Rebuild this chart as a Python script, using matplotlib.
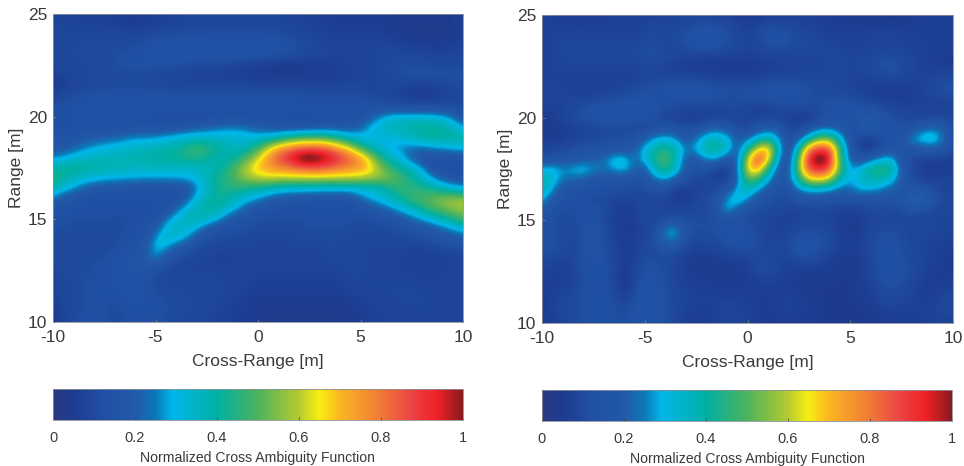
import numpy as np
import matplotlib
matplotlib.use('Agg')
import matplotlib.pyplot as plt
from matplotlib.colors import LinearSegmentedColormap

plt.rcParams['font.family'] = ['Liberation Sans', 'DejaVu Sans']
plt.rcParams['axes.unicode_minus'] = False

cross_step = 0.5
range_top = 25.0
range_step = 0.5

# values, x100, rows from range 25 down to 10, columns cross-range -10..10 by 0.5
# peaks sit a bit above 100 because the bicubic filter below takes some height off them
left_rows = [
    [8, 8, 7, 7, 7, 7, 7, 6, 6, 6, 7, 8, 8, 8, 8, 8, 8, 8, 8, 8, 8, 8, 8, 8, 8, 7, 7, 6, 6, 6, 6, 6, 6, 6, 5, 5, 5, 5, 5, 5, 7],
    [9, 8, 8, 8, 8, 7, 7, 6, 5, 6, 7, 7, 8, 9, 9, 9, 9, 9, 9, 9, 9, 9, 9, 8, 8, 7, 7, 6, 6, 6, 6, 6, 6, 5, 5, 4, 4, 4, 4, 5, 7],
    [9, 9, 9, 9, 9, 9, 9, 9, 9, 10, 10, 11, 11, 11, 11, 12, 12, 12, 12, 12, 12, 12, 11, 10, 9, 8, 8, 7, 7, 7, 7, 7, 7, 6, 5, 5, 4, 4, 4, 5, 7],
    [9, 9, 9, 10, 10, 10, 10, 10, 11, 12, 13, 14, 14, 15, 15, 15, 15, 15, 15, 15, 15, 15, 14, 13, 11, 10, 9, 8, 8, 8, 8, 8, 8, 8, 7, 7, 6, 6, 6, 7, 8],
    [10, 10, 10, 10, 10, 10, 11, 12, 12, 13, 14, 15, 15, 15, 15, 15, 15, 15, 14, 14, 13, 13, 12, 11, 10, 9, 9, 8, 8, 8, 8, 8, 9, 9, 9, 9, 9, 8, 8, 8, 9],
    [9, 9, 9, 9, 10, 10, 11, 12, 12, 12, 12, 12, 11, 11, 10, 9, 9, 8, 8, 7, 6, 6, 5, 5, 5, 6, 6, 7, 7, 8, 8, 8, 9, 10, 11, 11, 11, 10, 10, 10, 10],
    [7, 8, 9, 9, 10, 10, 10, 10, 10, 10, 9, 9, 8, 8, 7, 7, 7, 7, 6, 6, 5, 5, 5, 5, 5, 5, 5, 6, 6, 7, 7, 8, 9, 10, 11, 12, 12, 12, 12, 12, 12],
    [5, 6, 8, 9, 9, 10, 10, 10, 10, 10, 10, 9, 9, 9, 9, 9, 9, 9, 9, 9, 9, 9, 9, 9, 9, 9, 9, 9, 9, 9, 9, 8, 8, 8, 8, 7, 7, 7, 8, 9, 10],
    [8, 10, 11, 12, 12, 13, 13, 13, 13, 13, 13, 13, 13, 13, 13, 13, 13, 13, 13, 13, 13, 13, 13, 12, 12, 11, 11, 11, 11, 11, 11, 10, 10, 9, 7, 6, 5, 6, 7, 8, 9],
    [11, 12, 13, 14, 14, 15, 15, 15, 15, 15, 15, 15, 14, 14, 14, 14, 14, 14, 14, 14, 14, 14, 14, 14, 14, 14, 14, 14, 14, 14, 13, 13, 12, 11, 11, 10, 10, 10, 10, 10, 10],
    [12, 12, 13, 13, 13, 13, 13, 12, 12, 11, 11, 10, 9, 9, 9, 10, 10, 11, 11, 11, 11, 11, 11, 11, 11, 11, 11, 12, 12, 13, 13, 20, 27, 32, 33, 33, 33, 32, 30, 24, 15],
    [12, 12, 12, 12, 12, 12, 13, 13, 14, 14, 14, 14, 15, 17, 19, 21, 23, 25, 25, 23, 20, 18, 16, 15, 14, 15, 16, 17, 17, 18, 22, 30, 34, 37, 38, 40, 41, 41, 40, 36, 28],
    [14, 15, 16, 18, 20, 21, 22, 24, 26, 26, 27, 29, 31, 33, 34, 34, 34, 33, 33, 32, 31, 33, 36, 42, 46, 48, 48, 45, 39, 33, 31, 30, 31, 33, 33, 37, 40, 42, 42, 41, 40],
    [16, 18, 21, 25, 28, 30, 32, 33, 35, 36, 37, 38, 40, 44, 48, 46, 42, 38, 35, 38, 46, 60, 72, 78, 82, 84, 84, 80, 72, 62, 46, 38, 31, 27, 25, 24, 25, 27, 29, 31, 32],
    [26, 29, 32, 35, 36, 37, 37, 38, 39, 39, 40, 41, 42, 44, 44, 42, 38, 38, 42, 50, 62, 76, 86, 94, 104, 108, 104, 98, 90, 84, 76, 60, 44, 36, 31, 20, 14, 13, 13, 13, 15],
    [38, 42, 43, 42, 40, 39, 38, 37, 36, 36, 36, 36, 35, 34, 35, 36, 38, 44, 52, 62, 70, 74, 78, 80, 84, 86, 86, 84, 80, 77, 74, 68, 56, 46, 40, 36, 28, 15, 12, 11, 12],
    [46, 42, 36, 33, 31, 30, 29, 28, 28, 27, 27, 27, 28, 29, 31, 38, 42, 46, 52, 57, 60, 62, 60, 60, 60, 60, 60, 60, 60, 60, 60, 58, 56, 54, 48, 42, 36, 28, 20, 16, 15],
    [36, 32, 27, 22, 18, 16, 15, 15, 14, 14, 14, 14, 14, 15, 25, 34, 42, 44, 44, 42, 40, 37, 34, 33, 32, 32, 31, 31, 31, 31, 32, 33, 36, 42, 46, 46, 44, 42, 38, 33, 30],
    [25, 18, 15, 13, 12, 12, 12, 12, 12, 13, 13, 13, 13, 20, 32, 38, 42, 40, 36, 30, 27, 22, 18, 16, 15, 15, 14, 14, 14, 15, 24, 29, 32, 38, 42, 47, 50, 53, 56, 58, 58],
    [14, 13, 12, 12, 12, 12, 12, 12, 12, 12, 12, 13, 22, 32, 37, 39, 40, 34, 27, 20, 15, 13, 12, 12, 12, 12, 12, 12, 12, 12, 13, 16, 20, 25, 30, 36, 42, 48, 52, 56, 58],
    [12, 12, 11, 11, 11, 11, 10, 11, 11, 12, 14, 24, 33, 37, 38, 36, 30, 20, 15, 13, 11, 11, 11, 11, 11, 12, 12, 12, 12, 11, 11, 11, 12, 15, 18, 22, 27, 32, 37, 43, 48],
    [11, 11, 10, 10, 10, 10, 10, 11, 12, 13, 20, 32, 36, 34, 28, 18, 13, 12, 12, 11, 10, 10, 9, 10, 10, 11, 11, 11, 11, 10, 10, 10, 10, 10, 11, 13, 15, 18, 22, 26, 31],
    [10, 10, 10, 10, 10, 10, 11, 11, 13, 16, 29, 34, 31, 26, 15, 11, 10, 10, 9, 9, 8, 8, 8, 9, 9, 10, 10, 10, 10, 9, 9, 9, 9, 9, 9, 9, 10, 12, 14, 16, 18],
    [10, 10, 10, 10, 10, 10, 11, 12, 14, 18, 31, 26, 17, 12, 10, 9, 8, 8, 8, 8, 8, 8, 8, 8, 8, 8, 8, 9, 9, 9, 9, 8, 8, 8, 8, 7, 7, 8, 8, 9, 10],
    [10, 10, 10, 10, 11, 11, 14, 15, 17, 19, 23, 15, 10, 9, 8, 8, 7, 7, 8, 8, 8, 8, 8, 8, 8, 8, 8, 9, 9, 9, 9, 8, 8, 8, 7, 7, 7, 7, 7, 8, 8],
    [9, 10, 10, 11, 11, 12, 13, 15, 16, 14, 12, 10, 8, 8, 8, 8, 8, 8, 8, 8, 8, 8, 8, 8, 8, 8, 8, 8, 8, 9, 9, 8, 8, 8, 8, 7, 7, 7, 7, 8, 8],
    [8, 9, 10, 11, 11, 12, 13, 14, 15, 12, 10, 9, 9, 9, 9, 9, 9, 8, 8, 8, 7, 7, 7, 7, 7, 7, 7, 7, 7, 8, 8, 8, 9, 8, 8, 8, 8, 8, 8, 8, 8],
    [8, 9, 10, 11, 12, 12, 12, 13, 14, 12, 11, 10, 10, 9, 9, 9, 9, 8, 8, 7, 6, 6, 6, 6, 6, 6, 6, 6, 7, 8, 8, 8, 8, 9, 9, 9, 8, 8, 8, 8, 8],
    [7, 8, 10, 11, 12, 11, 11, 12, 13, 12, 12, 11, 11, 10, 9, 9, 8, 8, 7, 6, 5, 5, 5, 5, 5, 5, 5, 5, 5, 6, 7, 8, 8, 8, 8, 9, 9, 8, 8, 8, 8],
    [6, 8, 10, 11, 12, 11, 10, 11, 12, 12, 12, 11, 10, 10, 9, 9, 8, 7, 6, 6, 5, 4, 4, 4, 4, 4, 4, 4, 4, 5, 6, 7, 8, 8, 8, 8, 8, 8, 8, 8, 8],
    [5, 8, 11, 12, 13, 11, 10, 11, 11, 12, 12, 11, 9, 9, 8, 8, 7, 7, 6, 6, 5, 4, 4, 4, 4, 4, 4, 4, 4, 5, 6, 7, 7, 8, 8, 8, 8, 8, 8, 8, 8],
]

right_rows = [
    [7, 7, 6, 6, 5, 6, 6, 7, 7, 7, 7, 7, 7, 8, 8, 8, 8, 8, 7, 6, 5, 5, 6, 7, 7, 7, 7, 6, 6, 5, 5, 5, 5, 5, 4, 5, 5, 6, 6, 7, 7],
    [7, 7, 7, 7, 6, 7, 7, 7, 7, 7, 8, 9, 8, 9, 9, 11, 12, 11, 10, 8, 7, 8, 10, 10, 9, 8, 7, 7, 6, 6, 6, 6, 6, 6, 6, 6, 6, 7, 7, 7, 7],
    [7, 8, 8, 8, 8, 8, 8, 8, 8, 8, 9, 10, 9, 10, 12, 15, 16, 14, 12, 9, 8, 10, 13, 13, 12, 10, 9, 8, 7, 7, 7, 7, 8, 8, 8, 8, 7, 7, 7, 7, 7],
    [7, 8, 9, 9, 9, 9, 9, 9, 9, 9, 10, 11, 9, 9, 11, 14, 15, 13, 11, 9, 8, 9, 11, 12, 11, 10, 10, 9, 8, 8, 7, 7, 8, 8, 8, 8, 7, 7, 7, 7, 7],
    [7, 8, 8, 9, 9, 9, 9, 9, 9, 10, 11, 12, 10, 9, 8, 8, 7, 7, 7, 7, 7, 7, 8, 8, 8, 8, 8, 8, 9, 9, 8, 8, 9, 11, 10, 9, 8, 7, 7, 6, 6],
    [7, 8, 8, 8, 8, 8, 8, 8, 8, 8, 9, 9, 7, 6, 6, 5, 5, 5, 5, 5, 5, 5, 6, 7, 7, 8, 8, 8, 8, 9, 8, 9, 10, 12, 13, 11, 9, 7, 6, 6, 6],
    [7, 7, 7, 7, 7, 7, 7, 7, 7, 7, 8, 9, 9, 9, 9, 8, 8, 7, 7, 7, 7, 7, 8, 9, 9, 9, 9, 9, 9, 9, 8, 8, 8, 9, 10, 9, 8, 8, 8, 9, 10],
    [8, 8, 8, 7, 7, 7, 7, 7, 8, 9, 11, 12, 13, 14, 14, 14, 13, 12, 11, 11, 11, 12, 13, 14, 14, 13, 11, 10, 10, 9, 8, 7, 6, 6, 6, 6, 7, 8, 10, 12, 13],
    [8, 8, 8, 8, 7, 8, 9, 10, 11, 12, 12, 13, 13, 14, 14, 14, 13, 12, 11, 11, 12, 12, 13, 13, 13, 13, 11, 11, 10, 11, 10, 8, 7, 6, 6, 6, 6, 7, 8, 9, 10],
    [7, 7, 8, 10, 11, 13, 14, 15, 16, 16, 15, 13, 11, 10, 9, 9, 9, 9, 10, 10, 9, 7, 8, 10, 11, 11, 10, 11, 14, 15, 14, 13, 12, 10, 9, 8, 8, 8, 7, 7, 7],
    [6, 6, 8, 10, 12, 14, 15, 16, 16, 15, 13, 11, 8, 7, 6, 6, 6, 7, 7, 8, 8, 7, 7, 7, 6, 5, 6, 9, 11, 14, 14, 17, 19, 15, 12, 10, 8, 8, 8, 9, 10],
    [5, 5, 6, 7, 8, 9, 9, 9, 9, 8, 8, 11, 16, 14, 10, 12, 18, 22, 18, 10, 9, 16, 20, 19, 9, 8, 13, 20, 22, 17, 12, 16, 21, 14, 13, 12, 12, 20, 24, 19, 10],
    [5, 5, 6, 7, 8, 9, 10, 11, 12, 14, 20, 28, 30, 26, 17, 24, 34, 36, 32, 20, 22, 32, 38, 28, 10, 18, 36, 52, 52, 34, 14, 8, 7, 12, 15, 18, 28, 34, 36, 26, 12],
    [8, 8, 9, 11, 13, 13, 13, 14, 14, 20, 30, 40, 44, 40, 24, 30, 40, 44, 36, 18, 38, 64, 72, 36, 12, 38, 78, 90, 86, 46, 18, 6, 5, 10, 14, 15, 16, 18, 20, 18, 10],
    [12, 14, 15, 16, 18, 20, 22, 33, 32, 22, 32, 44, 50, 38, 20, 18, 28, 28, 18, 18, 62, 90, 72, 26, 12, 52, 96, 108, 98, 46, 20, 14, 20, 28, 32, 14, 10, 8, 7, 6, 7],
    [30, 32, 27, 30, 33, 27, 24, 28, 32, 22, 18, 38, 46, 36, 18, 13, 13, 8, 4, 22, 66, 76, 42, 20, 15, 56, 88, 94, 86, 52, 27, 32, 44, 48, 44, 20, 9, 6, 5, 5, 7],
    [38, 33, 24, 22, 20, 17, 15, 15, 14, 14, 14, 24, 28, 20, 12, 9, 8, 7, 6, 20, 52, 46, 30, 16, 20, 42, 64, 68, 60, 36, 27, 34, 38, 38, 33, 18, 10, 8, 7, 8, 8],
    [40, 28, 17, 14, 13, 12, 12, 11, 11, 10, 10, 12, 12, 5, 6, 7, 9, 10, 15, 30, 38, 28, 18, 13, 13, 26, 30, 30, 27, 22, 24, 30, 29, 26, 20, 18, 17, 15, 12, 8, 8],
    [29, 18, 13, 11, 11, 10, 10, 8, 7, 8, 9, 9, 8, 6, 6, 8, 10, 15, 28, 35, 26, 15, 12, 10, 10, 13, 14, 14, 13, 12, 12, 13, 13, 13, 13, 16, 24, 23, 15, 10, 9],
    [18, 13, 11, 11, 13, 12, 11, 7, 5, 7, 10, 9, 8, 8, 8, 9, 10, 15, 32, 20, 13, 10, 10, 9, 8, 8, 9, 9, 9, 8, 7, 8, 10, 10, 9, 10, 13, 12, 10, 9, 8],
    [12, 11, 10, 10, 12, 13, 10, 6, 5, 7, 9, 9, 10, 14, 12, 11, 11, 10, 12, 11, 10, 9, 8, 7, 7, 8, 8, 8, 8, 6, 5, 6, 8, 9, 9, 8, 8, 8, 8, 8, 8],
    [12, 11, 10, 9, 12, 14, 12, 7, 5, 6, 8, 10, 28, 32, 12, 11, 11, 12, 14, 14, 13, 10, 8, 7, 8, 10, 12, 10, 9, 6, 5, 6, 9, 11, 11, 10, 9, 9, 9, 8, 8],
    [12, 12, 11, 9, 12, 14, 12, 7, 6, 7, 9, 12, 22, 24, 11, 9, 9, 10, 12, 14, 13, 11, 9, 8, 9, 13, 14, 12, 11, 7, 6, 7, 10, 12, 12, 11, 9, 8, 8, 7, 7],
    [12, 11, 10, 8, 12, 14, 12, 8, 6, 7, 9, 10, 12, 11, 8, 7, 7, 8, 9, 11, 11, 10, 8, 8, 10, 14, 14, 11, 9, 6, 6, 7, 10, 12, 13, 11, 9, 8, 7, 6, 6],
    [10, 8, 7, 8, 12, 13, 12, 9, 5, 7, 11, 11, 10, 8, 6, 5, 5, 5, 6, 6, 7, 10, 11, 8, 7, 9, 10, 8, 7, 5, 5, 6, 9, 12, 13, 12, 10, 8, 7, 6, 6],
    [8, 7, 7, 8, 12, 13, 13, 9, 5, 8, 13, 12, 11, 8, 7, 5, 5, 5, 5, 5, 6, 9, 10, 8, 7, 6, 6, 6, 6, 5, 5, 6, 9, 12, 13, 12, 10, 8, 6, 6, 6],
    [7, 6, 6, 8, 11, 12, 12, 9, 4, 9, 14, 13, 11, 8, 7, 6, 6, 6, 6, 6, 6, 7, 7, 7, 6, 5, 5, 5, 5, 5, 5, 6, 8, 11, 12, 11, 9, 7, 6, 6, 7],
    [6, 7, 8, 9, 12, 12, 12, 10, 5, 10, 15, 14, 12, 9, 8, 7, 7, 6, 6, 6, 6, 6, 6, 6, 6, 6, 5, 5, 5, 5, 5, 6, 7, 9, 11, 10, 8, 6, 6, 7, 8],
    [5, 7, 9, 10, 12, 12, 12, 11, 8, 12, 15, 14, 12, 9, 8, 7, 7, 8, 8, 8, 7, 6, 6, 7, 8, 7, 6, 5, 5, 5, 5, 5, 6, 8, 9, 8, 7, 7, 7, 9, 10],
    [5, 7, 9, 10, 12, 12, 12, 12, 10, 13, 14, 14, 12, 9, 7, 6, 6, 7, 8, 8, 7, 6, 6, 6, 7, 6, 6, 5, 5, 5, 5, 5, 5, 6, 7, 7, 7, 7, 8, 9, 9],
    [5, 6, 8, 10, 12, 12, 12, 12, 11, 13, 14, 14, 12, 9, 6, 6, 6, 7, 8, 8, 7, 6, 5, 5, 6, 6, 6, 5, 5, 5, 5, 5, 5, 5, 6, 6, 6, 6, 7, 7, 7],
]

x_ticks = [-10, -5, 0, 5, 10]
y_ticks = [10, 15, 20, 25]
cbar_ticks = [0, 0.2, 0.4, 0.6, 0.8, 1]
cbar_ticklabels = ['0', '0.2', '0.4', '0.6', '0.8', '1']

# colormap as seen in the colorbars
cmap = LinearSegmentedColormap.from_list('cbar', [
    (0.00, '#2b3a80'), (0.05, '#1c3c90'), (0.12, '#2050a4'), (0.20, '#2259a8'),
    (0.25, '#0c78b8'), (0.29, '#00b6ea'), (0.33, '#00b4d0'), (0.40, '#00b0a4'),
    (0.50, '#4cb35c'), (0.60, '#b4ca30'), (0.65, '#f8ee12'), (0.70, '#fbb722'),
    (0.80, '#f07a36'), (0.88, '#ec4044'), (0.94, '#ee2024'), (1.00, '#8a1a20'),
])

W, H = 964, 466
fig = plt.figure(figsize=(W / 100, H / 100), dpi=100)
text_c = '#3a3a3a'
edge_c = '#8a8f96'


def make_ax(box):
    x0, y0, x1, y1 = box
    return fig.add_axes([x0 / W, 1 - y1 / H, (x1 - x0) / W, (y1 - y0) / H])


panels = [
    (left_rows, (53, 14, 463, 322), (53, 389, 463, 420)),
    (right_rows, (542, 15, 953, 323), (542, 390, 952, 421)),
]

for rows, ax_box, cb_box in panels:
    z = np.array(rows) / 100.0
    ax = make_ax(ax_box)
    im = ax.imshow(z, cmap=cmap, vmin=0, vmax=1, aspect='auto', origin='upper',
                   interpolation='bicubic', interpolation_stage='data',
                   extent=[-10 - cross_step / 2, 10 + cross_step / 2,
                           range_top - len(rows) * range_step + range_step / 2,
                           range_top + range_step / 2])
    ax.set_xlim(-10, 10)
    ax.set_ylim(10, 25)
    ax.set_xticks(x_ticks)
    ax.set_yticks(y_ticks)
    ax.tick_params(direction='in', length=2, width=0.5, color=edge_c,
                   labelsize=12.5, labelcolor=text_c, pad=4)
    ax.tick_params(axis='x', pad=6)
    ax.set_xlabel('Cross-Range [m]', fontsize=12.5, color=text_c, labelpad=6)
    ax.set_ylabel('Range [m]', fontsize=12.5, color=text_c, labelpad=3)
    for s in ax.spines.values():
        s.set_color(edge_c)
        s.set_linewidth(0.6)

    cax = make_ax(cb_box)
    cb = fig.colorbar(im, cax=cax, orientation='horizontal')
    cb.set_ticks(cbar_ticks)
    cb.set_ticklabels(cbar_ticklabels)
    cb.ax.tick_params(direction='in', length=2, width=0.5, color='#444444',
                      labelsize=10.5, labelcolor=text_c, pad=8)
    cb.set_label('Normalized Cross Ambiguity Function', fontsize=10.1, color=text_c, labelpad=4)
    cb.outline.set_edgecolor(edge_c)
    cb.outline.set_linewidth(0.6)

fig.savefig('out.png', dpi=100)
